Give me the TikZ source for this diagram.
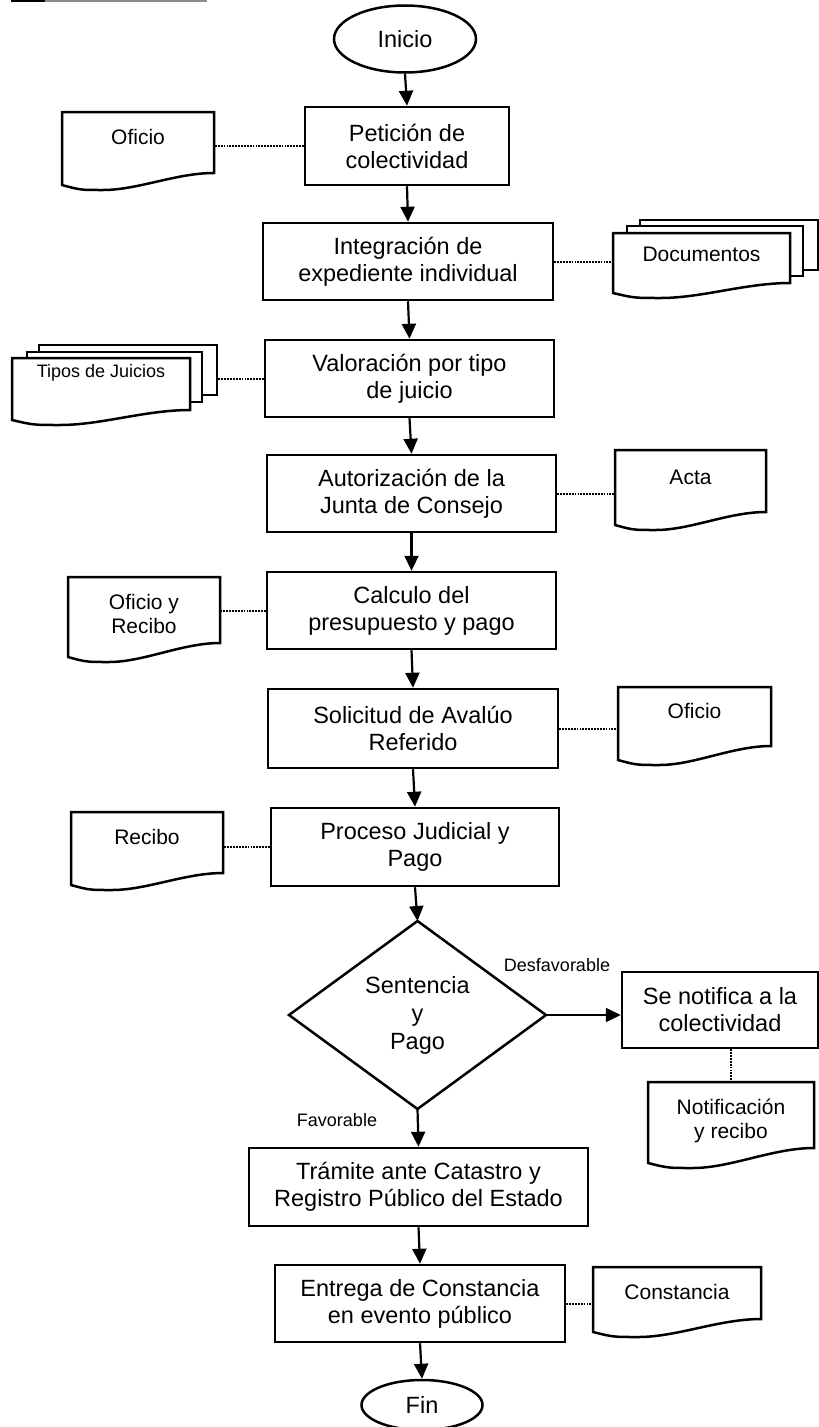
\documentclass[tikz,border=0pt]{standalone}
\usepackage{fontspec}
\setmainfont{Liberation Sans}
\usetikzlibrary{arrows.meta,calc,shapes.geometric}
\pgfdeclarelayer{paper}
\pgfdeclarelayer{bg}
\pgfsetlayers{paper,bg,main}

\tikzset{
  box/.style={draw, line width=2.5pt, rectangle, inner sep=0pt, align=center,
    font=\fontsize{23.5}{27}\selectfont},
  term/.style={draw, line width=2.5pt, ellipse, inner sep=0pt,
    font=\fontsize{23.5}{27}\selectfont},
  docnode/.style={rectangle, inner sep=0pt, outer sep=0pt, align=center,
    font=\fontsize{21}{24}\selectfont},
  docline/.style={draw, line width=2.5pt, line join=miter, fill=white},
  flow/.style={line width=2.2pt, -{Triangle[length=15pt,width=14pt]}},
  tie/.style={line width=2pt, dash pattern=on 1.8pt off 1.1pt},
  lbl/.style={inner sep=0pt, font=\fontsize{18}{20}\selectfont},
}

% document symbol: flat top, wavy bottom
% #1 node, #2 height at the right edge, #3 extra drop at the left edge, #4 width
\newcommand\docoutline[4]{%
  \path[docline] (#1.north west) -- (#1.north east) -- ++(0,#2)
    .. controls +(-0.25*#4,0) and ($(#1.north west)+(0.5*#4,#2+#3+5)$)
    .. ($(#1.north west)+(0.27*#4,#2+#3+5)$)
    .. controls ($(#1.north west)+(0.12*#4,#2+#3+5)$)
    .. ($(#1.north west)+(0,#2+#3)$) -- cycle;}

\begin{document}
\begin{tikzpicture}[x=1pt,y=-1pt]
\begin{pgfonlayer}{paper}
  \fill[white] (0,0) rectangle (819,1427);
\end{pgfonlayer}
\useasboundingbox (0,0) rectangle (819,1427);

% rule at the top edge
\draw[line width=2pt, black!45] (11,1) -- (207,1);
\draw[line width=2.4pt] (11,1) -- (45,1);

% main flow
\node[term, minimum width=142pt, minimum height=67pt] (inicio) at (405,39) {Inicio};
\node[box, minimum width=204pt, minimum height=78pt] (peticion) at (407,146) {Petición de\\colectividad};
\node[box, minimum width=290pt, minimum height=77pt] (integracion) at (408,261.5) {Integración de\\expediente individual};
\node[box, minimum width=289pt, minimum height=77pt] (valoracion) at (409.5,378.5) {Valoración por tipo\\de juicio};
\node[box, minimum width=289pt, minimum height=77pt] (autorizacion) at (411.5,493.5) {Autorización de la\\Junta de Consejo};
\node[box, minimum width=289pt, minimum height=77pt] (calculo) at (411.5,610.5) {Calculo del\\presupuesto y pago};
\node[box, minimum width=290pt, minimum height=79pt] (solicitud) at (413,728.5) {Solicitud de Avalúo\\Referido};
\node[box, minimum width=288pt, minimum height=78pt] (proceso) at (415,847) {Proceso Judicial y\\Pago};
\node[rectangle, inner sep=0pt, outer sep=0pt, minimum width=257pt, minimum height=188pt,
      align=center, font=\fontsize{23.5}{28}\selectfont] (sentencia) at (417.5,1015) {Sentencia\\y\\Pago};
\draw[line width=2.5pt, line join=miter] (sentencia.north) -- (sentencia.east) -- (sentencia.south) -- (sentencia.west) -- cycle;
\node[box, minimum width=196pt, minimum height=76pt] (senotifica) at (720,1010) {Se notifica a la\\colectividad};
\node[box, minimum width=339pt, minimum height=78pt] (tramite) at (418.5,1187) {Trámite ante Catastro y\\Registro Público del Estado};
\node[box, minimum width=290pt, minimum height=77pt] (entrega) at (420,1303.5) {Entrega de Constancia\\en evento público};
\node[term, minimum width=121pt, minimum height=50pt] (fin) at (422,1405) {Fin};

% documents
\node[docnode, minimum width=152pt, minimum height=50pt] (oficioA) at (138,137) {Oficio};
\node[docnode, minimum width=177pt, minimum height=42pt] (docs) at (701.5,254) {Documentos};
\node[docnode, minimum width=178pt, minimum height=30pt, font=\fontsize{18}{20}\selectfont] (tipos) at (101,373) {Tipos de Juicios};
\node[docnode, minimum width=151pt, minimum height=54pt] (acta) at (690.5,477) {Acta};
\node[docnode, minimum width=152pt, minimum height=74pt] (oficioB) at (144,614) {Oficio y\\Recibo};
\node[docnode, minimum width=153pt, minimum height=48pt] (oficioC) at (694.5,711) {Oficio};
\node[docnode, minimum width=152pt, minimum height=50pt] (recibo) at (147,837) {Recibo};
\node[docnode, minimum width=166pt, minimum height=78pt] (notif) at (731,1121) {Notificación\\y recibo};
\node[docnode, minimum width=168pt, minimum height=50pt] (constancia) at (677,1292) {Constancia};
\coordinate (tiposedge) at ($(tipos.north east)+(27,0)$);

\begin{pgfonlayer}{bg}
  \docoutline{oficioA}{61}{12}{152}
  \path[docline] ($(docs.north west)+(27,-13)$) rectangle +(178,50);
  \path[docline] ($(docs.north west)+(14,-7)$) rectangle +(176,50);
  \docoutline{docs}{50}{10}{177}
  \path[docline] ($(tipos.north west)+(27,-13)$) rectangle +(178,50);
  \path[docline] ($(tipos.north west)+(15,-6)$) rectangle +(175,50);
  \docoutline{tipos}{52}{10}{178}
  \docoutline{acta}{62}{13}{151}
  \docoutline{oficioB}{66}{14}{152}
  \docoutline{oficioC}{59}{14}{153}
  \docoutline{recibo}{61}{12}{152}
  \docoutline{notif}{66}{15}{166}
  \docoutline{constancia}{52}{13}{168}
\end{pgfonlayer}

% flow arrows
\draw[flow] (inicio.south) -- (peticion.north);
\draw[flow] (peticion.south) -- (integracion.north);
\draw[flow] (integracion.south) -- (valoracion.north);
\draw[flow] (valoracion.south) -- (autorizacion.north);
\draw[flow] (autorizacion.south) -- (calculo.north);
\draw[flow] (calculo.south) -- (solicitud.north);
\draw[flow] (solicitud.south) -- (proceso.north);
\draw[flow] (proceso.south) -- (sentencia.north);
\draw[flow] (sentencia.east) -- (sentencia.east -| senotifica.west);
\draw[flow] (sentencia.south) -- (tramite.north);
\draw[flow] (tramite.south) -- (entrega.north);
\draw[flow] (entrega.south) -- (fin.north);

% branch labels
\node[lbl] (desfav) at (557,965) {Desfavorable};
\node[lbl] (fav) at (337,1120) {Favorable};

% document links
\draw[tie] (peticion.west) -- (peticion.west -| oficioA.east);
\draw[tie] (integracion.east) -- (integracion.east -| docs.west);
\draw[tie] (valoracion.west) -- (valoracion.west -| tiposedge);
\draw[tie] (autorizacion.east) -- (autorizacion.east -| acta.west);
\draw[tie] (calculo.west) -- (calculo.west -| oficioB.east);
\draw[tie] (solicitud.east) -- (solicitud.east -| oficioC.west);
\draw[tie] (proceso.west) -- (proceso.west -| recibo.east);
\draw[tie] (senotifica.south -| notif.north) -- (notif.north);
\draw[tie] (entrega.east) -- (entrega.east -| constancia.west);
\end{tikzpicture}
\end{document}
